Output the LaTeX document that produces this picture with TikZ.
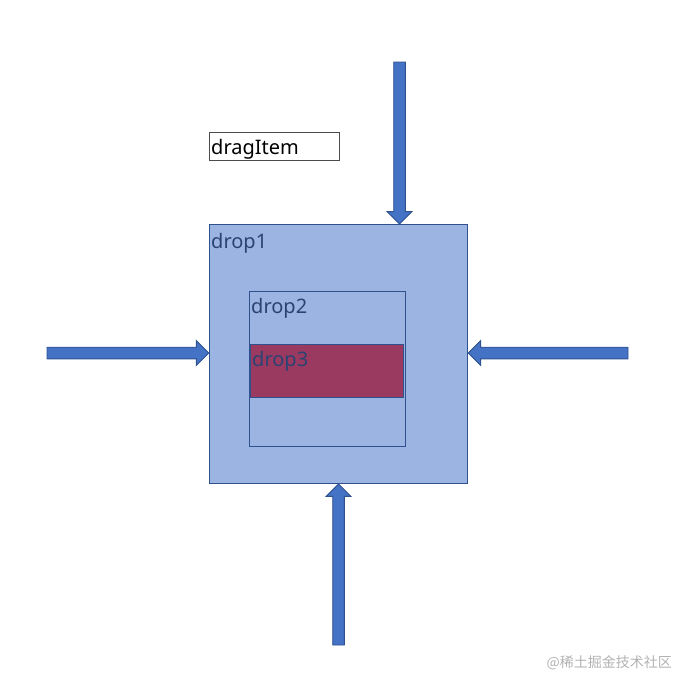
\documentclass[tikz,border=0pt]{standalone}
\usepackage{fontspec}
\setmainfont{Noto Sans}
\newfontfamily\cjk{Noto Sans CJK SC}
\usetikzlibrary{calc}
\definecolor{boxfill}{HTML}{9CB4E1}
\definecolor{boxline}{HTML}{2F528F}
\definecolor{arrowfill}{HTML}{4472C4}
\definecolor{redfill}{HTML}{9A3A61}
\definecolor{labcol}{HTML}{2B4373}
\newcommand\blockarrow[2]{%
  \coordinate (hb) at ($(#2)!12.5pt!(#1)$);
  \draw[arrowbox] ($(#1)!5.8pt!90:(#2)$) -- ($(hb)!5.8pt!90:(#2)$) -- ($(hb)!12.5pt!90:(#2)$) -- (#2)
    -- ($(hb)!12.5pt!-90:(#2)$) -- ($(hb)!5.8pt!-90:(#2)$) -- ($(#1)!5.8pt!-90:(#2)$) -- cycle;}
\tikzset{
  dropbox/.style={draw=boxline, fill=boxfill, rectangle, inner sep=0pt},
  droplabel/.style={anchor=base west, inner sep=0pt, text=labcol, font=\fontsize{20}{24}\selectfont},
  arrowbox/.style={draw=boxline, fill=arrowfill, line width=0.9pt, line join=miter},
}
\begin{document}
\begin{tikzpicture}[x=1pt,y=-1pt]
\useasboundingbox (0,0) rectangle (683,678);
% dragItem
\node[draw=black!70, line width=0.8pt, minimum width=130pt, minimum height=28pt, inner sep=0pt] (drag) at (274,146) {};
\node[anchor=base west, inner sep=0pt, font=\fontsize{20}{24}\selectfont] (dragtxt) at (211,154.5) {dragItem};
% drop boxes
\node[dropbox, line width=1.3pt, minimum width=258pt, minimum height=258.5pt] (drop1) at (338.5,354) {};
\node[droplabel] (l1) at (211,248) {drop1};
\node[dropbox, line width=0.8pt, minimum width=156pt, minimum height=154.5pt] (drop2) at (327.3,368.8) {};
\node[droplabel] (l2) at (251,313.3) {drop2};
\node[draw=boxline, fill=redfill, line width=0.8pt, inner sep=0pt, minimum width=153.5pt, minimum height=52.7pt] (drop3) at (326.8,370.7) {};
\node[droplabel] (l3) at (252,366.7) {drop3};
% arrows
\coordinate (topS) at (399.5,62);
\coordinate (topE) at (topS |- drop1.north);
\coordinate (leftS) at (47,353);
\coordinate (leftE) at (leftS -| drop1.west);
\coordinate (rightS) at (628,353);
\coordinate (rightE) at (rightS -| drop1.east);
\coordinate (botS) at (338.5,645);
\coordinate (botE) at (botS |- drop1.south);
\blockarrow{topS}{topE}
\blockarrow{leftS}{leftE}
\blockarrow{rightS}{rightE}
\blockarrow{botS}{botE}
% watermark
\node[anchor=east, inner sep=0pt, text=black!30, font=\cjk\fontsize{14}{16}\selectfont] (wm) at (672,663) {@稀土掘金技术社区};
\end{tikzpicture}
\end{document}
